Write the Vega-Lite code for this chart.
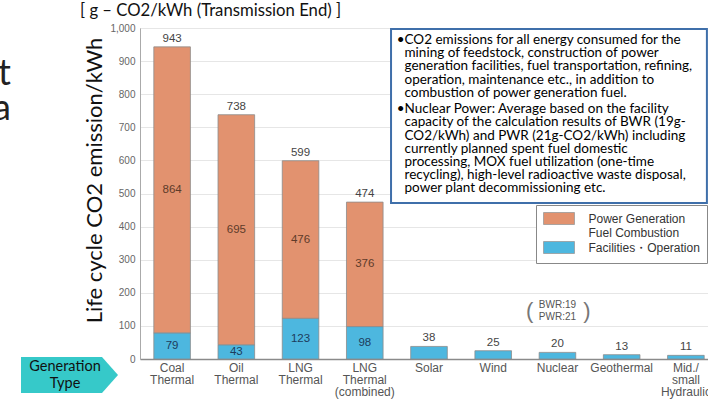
{
  "$schema": "https://vega.github.io/schema/vega-lite/v6.json",
  "width": 568,
  "height": 331,
  "autosize": {"type": "none"},
  "padding": {"left": 140, "top": 28, "right": 0, "bottom": 41},
  "background": "white",
  "title": {"text": "[ g – CO2/kWh (Transmission End) ]", "anchor": "start", "frame": "group", "dx": -60, "offset": 3, "font": "Lato", "fontSize": 16.7, "fontWeight": "normal", "color": "#111"},
  "datasets": {
    "segments": [
      {"type": "Coal Thermal", "component": "Facilities・Operation", "value": 79},
      {"type": "Coal Thermal", "component": "Power Generation Fuel Combustion", "value": 864},
      {"type": "Oil Thermal", "component": "Facilities・Operation", "value": 43},
      {"type": "Oil Thermal", "component": "Power Generation Fuel Combustion", "value": 695},
      {"type": "LNG Thermal", "component": "Facilities・Operation", "value": 123},
      {"type": "LNG Thermal", "component": "Power Generation Fuel Combustion", "value": 476},
      {"type": "LNG Thermal (combined)", "component": "Facilities・Operation", "value": 98},
      {"type": "LNG Thermal (combined)", "component": "Power Generation Fuel Combustion", "value": 376},
      {"type": "Solar", "component": "Facilities・Operation", "value": 38},
      {"type": "Wind", "component": "Facilities・Operation", "value": 25},
      {"type": "Nuclear", "component": "Facilities・Operation", "value": 20},
      {"type": "Geothermal", "component": "Facilities・Operation", "value": 13},
      {"type": "Mid./small Hydraulic", "component": "Facilities・Operation", "value": 11}
    ],
    "totals": [
      {"type": "Coal Thermal", "total": 943},
      {"type": "Oil Thermal", "total": 738},
      {"type": "LNG Thermal", "total": 599},
      {"type": "LNG Thermal (combined)", "total": 474},
      {"type": "Solar", "total": 38},
      {"type": "Wind", "total": 25},
      {"type": "Nuclear", "total": 20},
      {"type": "Geothermal", "total": 13},
      {"type": "Mid./small Hydraulic", "total": 11}
    ]
  },
  "layer": [
    {
      "layer": [
        {
          "data": {"name": "segments"},
          "transform": [
            {"stack": "value", "groupby": ["type"], "sort": [{"field": "component", "order": "ascending"}], "as": ["y0", "y1"]}
          ],
          "layer": [
            {
              "mark": {"type": "bar", "stroke": "#8c8c8c", "strokeWidth": 0.8},
              "encoding": {
                "x": {
                  "field": "type", "type": "nominal",
                  "scale": {"domain": ["Coal Thermal", "Oil Thermal", "LNG Thermal", "LNG Thermal (combined)", "Solar", "Wind", "Nuclear", "Geothermal", "Mid./small Hydraulic"], "range": [0, 578], "paddingInner": 0.43, "paddingOuter": 0.215},
                  "axis": {"title": null, "labelAngle": 0, "labelExpr": "datum.label == 'Mid./small Hydraulic' ? ['Mid./', 'small', 'Hydraulic'] : split(datum.label, ' ')", "labelFont": "Liberation Sans", "labelFontSize": 12, "labelColor": "#555", "labelLineHeight": 12, "ticks": false, "domainColor": "#8a8a8a", "domainWidth": 1.5, "labelPadding": 3, "labelLimit": 200, "labelOverlap": false}
                },
                "y": {
                  "field": "y1", "type": "quantitative",
                  "scale": {"domain": [0, 1000], "nice": false},
                  "title": "Life cycle CO2 emission/kWh",
                  "axis": {"values": [0, 100, 200, 300, 400, 500, 600, 700, 800, 900, 1000], "tickCount": 11, "labelOverlap": false, "grid": true}
                },
                "y2": {"field": "y0"},
                "color": {
                  "field": "component", "type": "nominal",
                  "scale": {"domain": ["Power Generation Fuel Combustion", "Facilities・Operation"], "range": ["#E2926F", "#4DB7DF"]},
                  "legend": {"orient": "none", "legendX": 396, "legendY": 177, "title": null, "symbolType": "M-2.58,-1H2.58V1H-2.58Z", "symbolSize": 144, "symbolOffset": 9.5, "symbolStrokeColor": "#999", "symbolStrokeWidth": 0.8, "symbolOpacity": 1, "labelFont": "Liberation Sans", "labelFontSize": 12, "labelColor": "#333", "labelOffset": 23, "rowPadding": 0, "padding": 7, "strokeColor": "#888", "fillColor": "white", "labelLimit": 200, "labelExpr": "datum.label == 'Power Generation Fuel Combustion' ? ['Power Generation', 'Fuel Combustion'] : datum.label"}
                }
              }
            },
            {
              "transform": [
                {"filter": "indexof(['Coal Thermal', 'Oil Thermal', 'LNG Thermal', 'LNG Thermal (combined)'], datum.type) >= 0"},
                {"calculate": "(datum.y0 + datum.y1) / 2", "as": "ymid"}
              ],
              "mark": {"type": "text", "font": "Liberation Sans", "fontSize": 11.5, "baseline": "middle"},
              "encoding": {
                "x": {"field": "type", "type": "nominal"},
                "y": {"field": "ymid", "type": "quantitative"},
                "text": {"field": "value", "type": "quantitative"},
                "color": {"condition": {"test": "datum.component === 'Facilities・Operation'", "value": "#1d3c5c"}, "value": "#5e3b2a"}
              }
            }
          ]
        },
        {
          "data": {"name": "totals"},
          "mark": {"type": "text", "font": "Liberation Sans", "fontSize": 11.5, "baseline": "bottom", "dy": -3, "color": "#444"},
          "encoding": {
            "x": {"field": "type", "type": "nominal"},
            "y": {"field": "total", "type": "quantitative"},
            "text": {"field": "total", "type": "quantitative"}
          }
        },
        {
          "data": {"values": [{}]},
          "mark": {"type": "text", "text": ["BWR:19", "PWR:21"], "font": "Liberation Sans", "fontSize": 10, "lineHeight": 12, "baseline": "middle", "color": "#555"},
          "encoding": {
            "x": {"datum": "Nuclear", "type": "nominal"},
            "y": {"datum": 163, "type": "quantitative"}
          }
        }
      ]
    },
    {
      "data": {"values": [{}]},
      "layer": [
        {
          "mark": {"type": "rect", "fill": "white", "stroke": "#3F6FAA", "strokeWidth": 2},
          "encoding": {
            "x": {"datum": 3.91, "type": "quantitative", "scale": {"domain": [0, 8.847], "nice": false, "zero": false}, "axis": null},
            "x2": {"datum": 8.83},
            "y": {"datum": 997, "type": "quantitative", "scale": {"domain": [0, 1000], "nice": false}},
            "y2": {"datum": 471}
          }
        },
        {
          "mark": {"type": "text", "text": "•", "align": "left", "baseline": "top", "font": "Lato", "fontSize": 13.5, "color": "#000"},
          "encoding": {
            "x": {"datum": 4.0, "type": "quantitative"},
            "y": {"datum": 985, "type": "quantitative"}
          }
        },
        {
          "mark": {"type": "text", "text": ["CO2 emissions for all energy consumed for the", "mining of feedstock, construction of power", "generation facilities, fuel transportation, refining,", "operation, maintenance etc., in addition to", "combustion of power generation fuel."], "align": "left", "baseline": "top", "font": "Lato", "fontSize": 13.5, "lineHeight": 13.2, "color": "#000"},
          "encoding": {
            "x": {"datum": 4.12, "type": "quantitative"},
            "y": {"datum": 985, "type": "quantitative"}
          }
        },
        {
          "mark": {"type": "text", "text": "•", "align": "left", "baseline": "top", "font": "Lato", "fontSize": 13.5, "color": "#000"},
          "encoding": {
            "x": {"datum": 4.0, "type": "quantitative"},
            "y": {"datum": 776, "type": "quantitative"}
          }
        },
        {
          "mark": {"type": "text", "text": ["Nuclear Power: Average  based on the facility", "capacity of the calculation results of BWR (19g-", "CO2/kWh) and PWR (21g-CO2/kWh)  including", "currently planned spent fuel domestic", "processing, MOX fuel utilization (one-time", "recycling), high-level radioactive waste disposal,", "power plant decommissioning etc."], "align": "left", "baseline": "top", "font": "Lato", "fontSize": 13.5, "lineHeight": 13.2, "color": "#000"},
          "encoding": {
            "x": {"datum": 4.12, "type": "quantitative"},
            "y": {"datum": 776, "type": "quantitative"}
          }
        },
        {
          "mark": {"type": "text", "text": ["t", "a"], "align": "right", "baseline": "alphabetic", "font": "Lato", "fontSize": 36, "lineHeight": 35, "color": "#222"},
          "encoding": {
            "x": {"datum": -2.009, "type": "quantitative"},
            "y": {"datum": 828, "type": "quantitative"}
          }
        },
        {
          "mark": {"type": "point", "shape": "M-1,-0.371L0.67,-0.371L1,0L0.67,0.371L-1,0.371Z", "size": 9409, "filled": true, "color": "#36C9C9", "opacity": 1, "strokeWidth": 0},
          "encoding": {
            "x": {"datum": -1.098, "type": "quantitative"},
            "y": {"datum": -48.3, "type": "quantitative"}
          }
        },
        {
          "mark": {"type": "text", "text": ["Generation", "Type"], "align": "center", "baseline": "middle", "font": "Lato", "fontSize": 14.5, "lineHeight": 17, "color": "#111"},
          "encoding": {
            "x": {"datum": -1.168, "type": "quantitative"},
            "y": {"datum": -24, "type": "quantitative"}
          }
        },
        {
          "mark": {"type": "text", "text": "(", "align": "center", "baseline": "middle", "font": "Liberation Sans", "fontSize": 22, "color": "#777"},
          "encoding": {
            "x": {"datum": 6.07, "type": "quantitative"},
            "y": {"datum": 145, "type": "quantitative"}
          }
        },
        {
          "mark": {"type": "text", "text": ")", "align": "center", "baseline": "middle", "font": "Liberation Sans", "fontSize": 22, "color": "#777"},
          "encoding": {
            "x": {"datum": 6.96, "type": "quantitative"},
            "y": {"datum": 145, "type": "quantitative"}
          }
        }
      ]
    }
  ],
  "resolve": {"scale": {"x": "independent"}, "axis": {"x": "independent"}},
  "config": {
    "view": {"stroke": "#c8c8c8"},
    "font": "Liberation Sans",
    "axisY": {"tickCount": 11, "labelOverlap": false, "labelFont": "Liberation Sans", "labelFontSize": 10, "labelColor": "#666", "ticks": false, "domainColor": "#aaaaaa", "gridColor": "#e6e6e6", "labelPadding": 5, "titleFont": "Lato", "titleFontSize": 22, "titleFontWeight": "normal", "titleColor": "#111", "titlePadding": 3, "titleY": 152}
  }
}
